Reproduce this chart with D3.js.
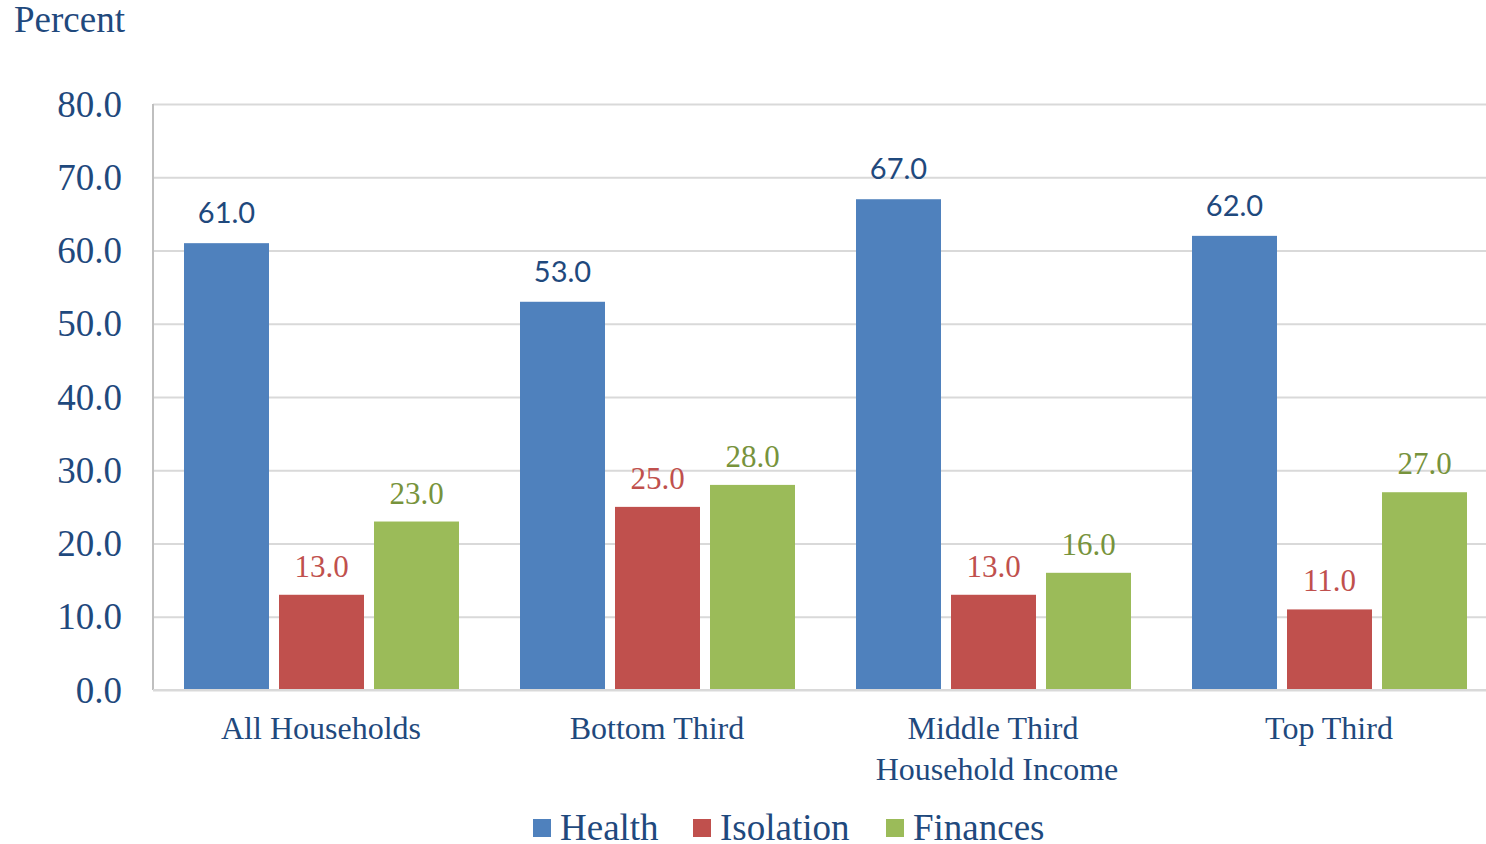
<!DOCTYPE html>
<html>
<head>
<meta charset="utf-8">
<script src="https://cdn.jsdelivr.net/npm/d3@7"></script>
<style>
  body { margin: 0; background: #fff; }
  text { fill: #1F497D; }
  .serif { font-family: "Liberation Serif", "Times New Roman", serif; }
  .sans { font-family: "Lato", "Open Sans", sans-serif; }
</style>
</head>
<body>
<svg width="1486" height="844"></svg>
<script>
const categories = ['All Households', 'Bottom Third', 'Middle Third', 'Top Third'];
const series = ['Health', 'Isolation', 'Finances'];
const health = [61.0, 53.0, 67.0, 62.0];
const isolation = [13.0, 25.0, 13.0, 11.0];
const finances = [23.0, 28.0, 16.0, 27.0];
const yTicks = [0, 10, 20, 30, 40, 50, 60, 70, 80];
const colors = { Health: '#4F81BD', Isolation: '#C0504D', Finances: '#9BBB59' };
const labelColors = { Health: '#1F497D', Isolation: '#C0504D', Finances: '#77933C' };

const svg = d3.select('svg');
const width = +svg.attr('width');
const height = +svg.attr('height');

const margin = { top: 104, left: 153, bottom: 154 };
const innerHeight = height - margin.top - margin.bottom;

const valuesBySeries = { Health: health, Isolation: isolation, Finances: finances };
const data = categories.map((c, i) => ({
  category: c,
  values: series.map(s => ({ key: s, value: valuesBySeries[s][i] }))
}));

const x0 = d3.scaleBand()
  .domain(categories)
  .range([margin.left, margin.left + 336 * 4]);

const x1 = d3.scaleBand()
  .domain(series)
  .range([31, 306])
  .paddingInner(10 / 95);

const yScale = d3.scaleLinear()
  .domain([0, 80])
  .range([margin.top + innerHeight, margin.top]);

// gridlines
const yAxis = d3.axisLeft(yScale)
  .tickValues(yTicks)
  .tickSize(-(width - margin.left))
  .tickPadding(31)
  .tickFormat(d3.format('.1f'));

const yAxisG = svg.append('g')
  .attr('transform', `translate(${margin.left},0)`)
  .call(yAxis);
yAxisG.select('.domain').remove();
yAxisG.selectAll('.tick line')
  .attr('stroke', '#d9d9d9')
  .attr('stroke-width', 2);
yAxisG.selectAll('.tick text')
  .attr('class', 'serif')
  .attr('font-size', 37)
  .attr('dy', '0.33em')
  .style('fill', '#1F497D');

// y axis line
svg.append('line')
  .attr('x1', margin.left).attr('x2', margin.left)
  .attr('y1', margin.top).attr('y2', yScale(0))
  .attr('stroke', '#bfbfbf').attr('stroke-width', 2);

// bars
const groups = svg.append('g').selectAll('g')
  .data(data)
  .join('g')
  .attr('transform', d => `translate(${x0(d.category)},0)`);

groups.selectAll('rect')
  .data(d => d.values)
  .join('rect')
  .attr('x', d => x1(d.key))
  .attr('y', d => yScale(d.value))
  .attr('width', x1.bandwidth())
  .attr('height', d => yScale(0) - yScale(d.value))
  .attr('fill', d => colors[d.key]);

groups.selectAll('text.value')
  .data(d => d.values)
  .join('text')
  .attr('class', d => 'value ' + (d.key === 'Health' ? 'sans' : 'serif'))
  .attr('x', d => x1(d.key) + x1.bandwidth() / 2)
  .attr('y', d => yScale(d.value) - (d.key === 'Health' ? 20 : 18))
  .attr('text-anchor', 'middle')
  .attr('font-size', d => d.key === 'Health' ? 29 : 31)
  .style('fill', d => labelColors[d.key])
  .text(d => d3.format('.1f')(d.value));

// x axis baseline
svg.append('line')
  .attr('x1', margin.left).attr('x2', width)
  .attr('y1', yScale(0)).attr('y2', yScale(0))
  .attr('stroke', '#d9d9d9').attr('stroke-width', 2);

// category labels
svg.append('g').selectAll('text')
  .data(categories)
  .join('text')
  .attr('class', 'serif')
  .attr('x', d => x0(d) + x0.bandwidth() / 2)
  .attr('y', 739)
  .attr('text-anchor', 'middle')
  .attr('font-size', 32)
  .text(d => d);

svg.append('text')
  .attr('class', 'serif')
  .attr('x', x0('Middle Third') + x0.bandwidth() / 2 + 4)
  .attr('y', 780)
  .attr('text-anchor', 'middle')
  .attr('font-size', 32)
  .text('Household Income');

// y title
svg.append('text')
  .attr('class', 'serif')
  .attr('x', 14)
  .attr('y', 32)
  .attr('font-size', 37)
  .text('Percent');

// legend
const legendX = [533, 693, 886];
const legend = svg.append('g').selectAll('g')
  .data(series)
  .join('g')
  .attr('transform', (d, i) => `translate(${legendX[i]},819)`);
legend.append('rect')
  .attr('width', 18).attr('height', 18)
  .attr('fill', d => colors[d]);
legend.append('text')
  .attr('class', 'serif')
  .attr('x', 27)
  .attr('y', 21)
  .attr('font-size', 37)
  .text(d => d);
</script>
</body>
</html>
